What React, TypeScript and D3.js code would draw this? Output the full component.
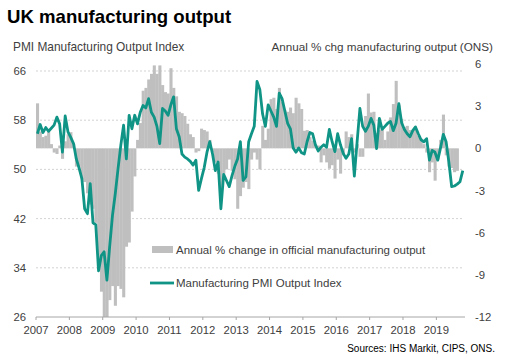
import * as d3 from "d3";

// monthly, Jan 2007 – Oct 2019
const pmiOutput: number[] = [
  55.8, 57.3, 56.0, 56.8, 56.2, 56.7, 57.2, 58.5, 57.4, 52.8, 58.7, 56.1,
  55.2, 54.2, 51.7, 50.2, 48.5, 43.6, 42.8, 47.7, 41.3, 41.0, 33.5, 36.0,
  36.6, 32.0, 37.5, 42.5, 46.0, 50.1, 53.9, 57.2, 51.7, 58.8, 56.6, 58.8,
  57.4, 59.3, 60.4, 60.0, 61.5, 59.3, 58.5, 57.0, 54.2, 59.9, 59.5, 58.8,
  60.5, 61.8, 56.6, 55.3, 52.5, 52.0, 51.7, 51.3, 50.7, 51.5, 46.6, 48.5,
  50.3, 52.8, 54.5, 52.5, 49.8, 51.2, 43.6, 49.2, 48.2, 47.2, 49.0, 50.5,
  51.7, 54.5, 48.2, 48.8, 54.5, 55.8, 57.0, 64.3, 63.0, 59.0, 57.0, 60.5,
  59.5, 58.5, 57.0, 62.4, 61.5, 59.5, 57.5, 56.6, 53.5, 52.8, 53.5, 52.7,
  52.5, 54.5, 56.0, 55.8, 54.0, 53.0, 53.6, 54.0, 53.6, 56.5, 54.5, 52.9,
  55.8, 54.0, 52.6, 51.8, 52.5, 55.0, 48.9, 54.5, 59.9, 57.0, 56.2, 57.0,
  58.3, 57.2, 53.4, 58.3, 56.5, 57.0, 57.5, 57.8, 56.3, 57.5, 60.7, 57.6,
  56.5, 55.8, 55.3, 56.3, 56.9, 55.8, 54.8, 54.5, 55.0, 51.5, 53.1, 52.8,
  51.5, 53.5, 55.7, 54.5, 51.2, 47.2, 47.3, 47.6, 48.0, 49.8,
];

// monthly, Jan 2007 – Aug 2019
const onsOutputChg: number[] = [
  3.2, 1.2, 0.8, 0.9, 1.2, 0.3, -0.3, -0.4, 0.2, -0.75, 0.5, 1.0,
  1.15, 0.3, -1.3, -1.3, -2.2, -2.4, -3.2, -4.0, -4.3, -5.3, -8.2, -10.2,
  -12.0, -12.0, -10.8, -9.8, -11.2, -9.8, -10.0, -10.6, -7.0, -6.7, -4.5, -2.0,
  0.6, 1.8, 4.1, 4.3, 4.9, 5.3, 5.9, 5.3, 5.9, 4.5, 4.0, 3.9,
  5.7, 4.3, 3.7, 2.6, 2.5, 2.3, 1.75, 1.0, 0.8, -0.3, -0.2, 1.4,
  1.3, 1.2, 0.6, -0.3, -1.0, -1.8, -3.1, -1.8, -1.5, -0.8, -1.6, -2.2,
  -4.3, -3.4, -2.8, -2.4, -2.9, -0.8, -0.3, -0.8, -1.5, 1.6, 0.6, 1.4,
  3.5, 3.6, 2.8, 4.3, 3.3, 2.7, 2.6, 2.9, 2.5, 3.6, 3.2, 2.8,
  1.25, 1.3, 0.8, 0.55, 0.3, 0.2, -1.0, -0.5, -1.0, -1.45, -1.2, -2.15,
  -0.8, -1.8, -0.5, 1.2, 0.8, 1.0, -0.3, 0.3, -0.6, -0.6, 2.3, 3.9,
  2.55, 2.6, 1.1, 1.3, 1.5, 0.6, 1.2, 2.2, 3.15, 4.8, 3.1, 2.1,
  1.5, 1.6, 1.3, 1.3, 1.4, 0.9, 0.7, 0.3, -0.3, -1.7, -1.0, -2.3,
  -0.8, 0.6, 2.4, -0.5, -1.3, -1.4, -1.7, -1.6,
];

const years = [2007, 2008, 2009, 2010, 2011, 2012, 2013, 2014, 2015, 2016, 2017, 2018, 2019];
const leftTicks = [26, 34, 42, 50, 58, 66];
const rightTicks = [-12, -9, -6, -3, 0, 3, 6];

const W = 507;
const H = 359;
const FONT = "'Liberation Sans', Arial, sans-serif";
const TEAL = "#0f9486";
const BAR = "#bfbfbf";
const TXT = "#404040";

export default function App() {
  const x = d3.scaleLinear().domain([2007, 2019 + 10.3 / 12]).range([36, 465]);
  const yL = d3.scaleLinear().domain([26, 66]).range([317, 71]);
  const yR = d3.scaleLinear().domain([-12, 6]).range([317, 64]);

  const monthStart = (i: number) => 2007 + i / 12;
  const monthMid = (i: number) => 2007 + (i + 0.5) / 12;

  const line = d3
    .line<number>()
    .x((_, i) => x(monthMid(i)))
    .y((d) => yL(d));

  return (
    <div style={{ position: "fixed", left: 0, top: 0, background: "#fff" }}>
      <svg width={W} height={H} style={{ display: "block" }} fontFamily={FONT}>
        <rect width={W} height={H} fill="#fff" />

        <text x={7} y={23} fontSize={18.6} fontWeight="bold" fill="#000">
          UK manufacturing output
        </text>
        <text x={13} y={51} fontSize={11.9} fill={TXT}>
          PMI Manufacturing Output Index
        </text>
        <text x={493} y={51} fontSize={11.7} fill={TXT} textAnchor="end">
          Annual % chg manufacturing output (ONS)
        </text>

        {/* gridlines */}
        {leftTicks.slice(1).map((t) => (
          <line
            key={t}
            x1={x(2007)}
            x2={463}
            y1={yL(t)}
            y2={yL(t)}
            stroke="#c8c8c8"
            strokeWidth={0.8}
            strokeDasharray="2,2"
          />
        ))}

        {/* ONS bars */}
        {onsOutputChg.map((v, i) => {
          const x0 = x(monthStart(i));
          const x1 = x(monthStart(i + 1));
          const y0 = yR(0);
          const yv = yR(v);
          return (
            <rect
              key={i}
              x={x0}
              width={x1 - x0 + 0.3}
              y={Math.min(y0, yv)}
              height={Math.abs(yv - y0)}
              fill={BAR}
            />
          );
        })}

        {/* PMI line */}
        <path d={line(pmiOutput) ?? ""} fill="none" stroke={TEAL} strokeWidth={2.8} strokeLinejoin="round" />

        {/* x axis */}
        <line x1={x(2007)} x2={465} y1={317} y2={317} stroke="#a6a6a6" strokeWidth={1} />
        {years.map((yr) => (
          <g key={yr}>
            <line x1={x(yr)} x2={x(yr)} y1={317} y2={320} stroke="#a6a6a6" />
            <text x={x(yr)} y={334} fontSize={11.3} fill={TXT} textAnchor="middle">
              {yr}
            </text>
          </g>
        ))}

        {/* left axis labels */}
        {leftTicks.map((t) => (
          <text key={t} x={26} y={yL(t) + 4} fontSize={11.3} fill={TXT} textAnchor="end">
            {t}
          </text>
        ))}

        {/* right axis labels */}
        {rightTicks.map((t) => (
          <text key={t} x={475} y={yR(t) + 4} fontSize={11.3} fill={TXT}>
            {t}
          </text>
        ))}

        {/* legend */}
        <rect x={152} y={246} width={21} height={7} fill={BAR} />
        <text x={176} y={254} fontSize={11.5} fill={TXT}>
          Annual % change in official manufacturing output
        </text>
        <line x1={150} x2={174} y1={283} y2={283} stroke={TEAL} strokeWidth={2.8} />
        <text x={176} y={287} fontSize={11.5} fill={TXT}>
          Manufacturing PMI Output Index
        </text>

        <text x={495} y={352} fontSize={10} fill="#000" textAnchor="end">
          Sources: IHS Markit, CIPS, ONS.
        </text>
      </svg>
    </div>
  );
}
